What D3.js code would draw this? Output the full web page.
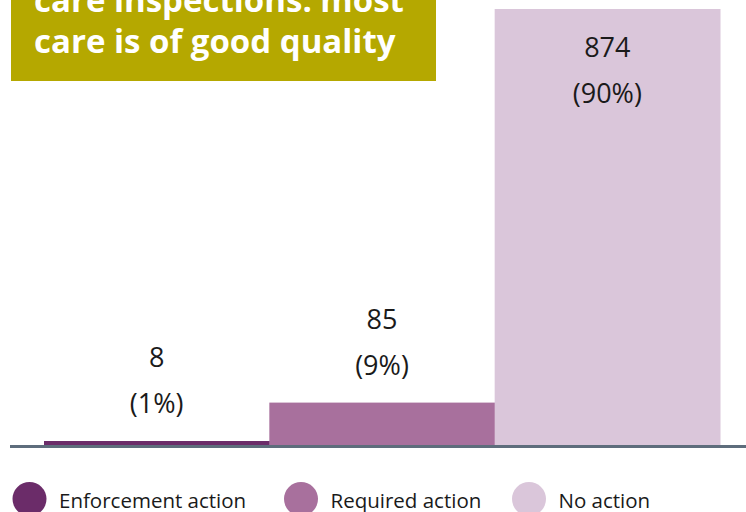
<!DOCTYPE html>
<html>
<head>
<meta charset="utf-8">
<script src="https://cdn.jsdelivr.net/npm/d3@7"></script>
<style>
  html, body { margin: 0; padding: 0; background: #ffffff; }
  svg { display: block; }
</style>
</head>
<body>
<svg id="chart" width="746" height="512"></svg>
<script>
const categories = ["Enforcement action", "Required action", "No action"];
const counts = [8, 85, 874];
const percentLabels = ["(1%)", "(9%)", "(90%)"];
const colors = ["#6b2c69", "#a8709d", "#dac6da"];
const titleLines = ["care inspections: most", "care is of good quality"];

const svg = d3.select("#chart");
const W = 746, H = 512;
const baseY = 445, topY = 9;

const x = d3.scaleBand().domain(categories).range([44, 720]).paddingInner(0).paddingOuter(0);
const y = d3.scaleLinear().domain([0, d3.max(counts)]).range([baseY, topY]);
const color = d3.scaleOrdinal().domain(categories).range(colors);

const data = categories.map((c, i) => ({ cat: c, v: counts[i], p: percentLabels[i] }));

// bars
svg.append("g").selectAll("rect").data(data).join("rect")
  .attr("x", d => x(d.cat))
  .attr("y", d => y(d.v))
  .attr("width", x.bandwidth() + 0.5)
  .attr("height", d => baseY - y(d.v))
  .attr("fill", d => color(d.cat));

// baseline
svg.append("line")
  .attr("x1", 10).attr("x2", W)
  .attr("y1", baseY + 1.5).attr("y2", baseY + 1.5)
  .attr("stroke", "#5e6d7c").attr("stroke-width", 3);

// value labels
const lab = svg.append("g")
  .attr("font-family", "'Open Sans', 'Noto Sans', sans-serif")
  .attr("font-size", 27)
  .attr("fill", "#1a1a1a")
  .attr("text-anchor", "middle");
data.forEach(d => {
  const top = y(d.v);
  const inside = top - 80 < 20;
  const y1 = inside ? top + 48 : top - 74;
  const y2 = inside ? top + 94 : top - 28;
  const cx = x(d.cat) + x.bandwidth() / 2;
  lab.append("text").attr("x", cx).attr("y", y1).text(d.v);
  lab.append("text").attr("x", cx).attr("y", y2).text(d.p);
});

// title box
svg.append("rect").attr("x", 11).attr("y", -10).attr("width", 425).attr("height", 91).attr("fill", "#b5a800");
svg.append("g")
  .attr("font-family", "'Open Sans', sans-serif")
  .attr("font-weight", "bold")
  .attr("font-size", 33)
  .attr("fill", "#ffffff")
  .selectAll("text").data(titleLines).join("text")
  .attr("x", 34)
  .attr("y", (d, i) => 12 + i * 41)
  .text(d => d);

// legend
const legendX = [29.5, 301, 529];
const leg = svg.append("g").selectAll("g").data(categories).join("g")
  .attr("transform", (d, i) => `translate(${legendX[i]},499)`);
leg.append("circle").attr("r", 17).attr("fill", d => color(d));
leg.append("text")
  .attr("x", 29.5)
  .attr("y", 9)
  .attr("font-family", "'Open Sans', sans-serif")
  .attr("font-size", 20.5)
  .attr("fill", "#1a1a1a")
  .text(d => d);
</script>
</body>
</html>
